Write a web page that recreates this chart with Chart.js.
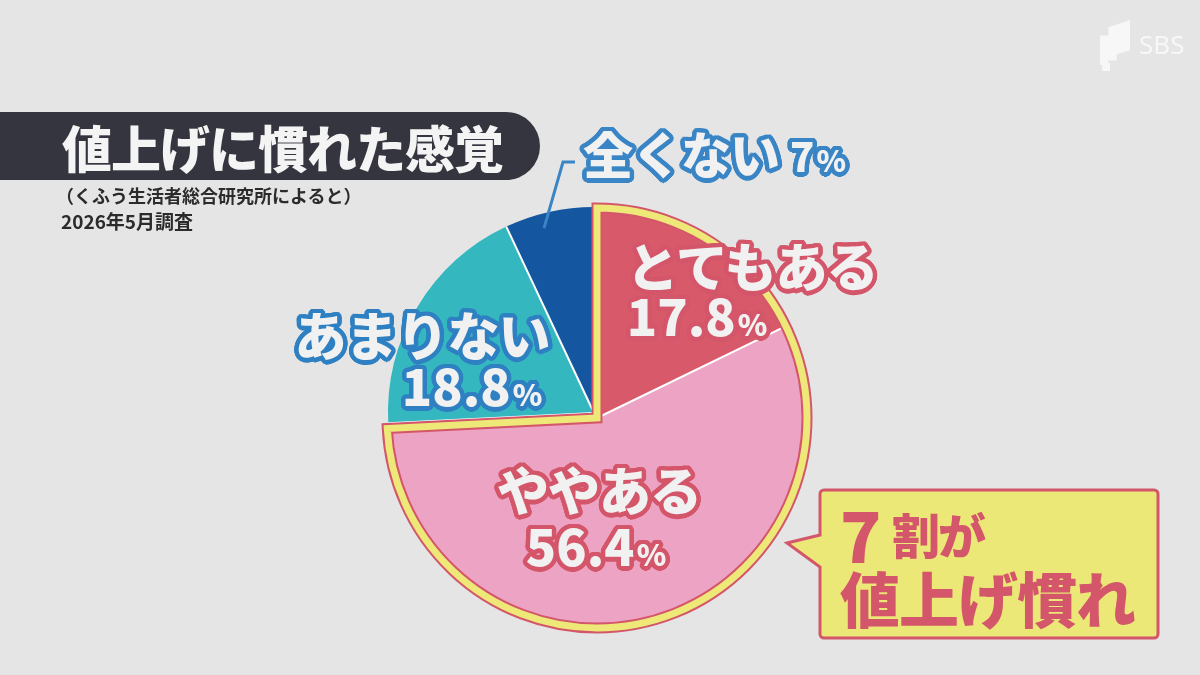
<!DOCTYPE html>
<html lang="ja">
<head>
<meta charset="utf-8">
<script src="https://cdn.jsdelivr.net/npm/chart.js@4.4.1/dist/chart.umd.min.js"></script>
<style>
html, body { margin: 0; padding: 0; }
body {
    width: 1200px; height: 675px; overflow: hidden; position: relative;
    background: #e5e5e5;
    font-family: "Noto Sans CJK JP", "Noto Sans", sans-serif;
}
#pie { position: absolute; left: 0; top: 0; }
.abs { position: absolute; white-space: nowrap; line-height: 1; }
.mid { transform: translate(-50%, -50%); }
#titleBar { left: 0; top: 112px; width: 540px; height: 68px; background: #34353e; border-radius: 0 34px 34px 0; }
#title { left: 62px; top: 121px; font-size: 50px; font-weight: 900; color: #f4f4f4; letter-spacing: -1px; }
#sub1 { left: 56px; top: 186px; font-size: 18px; font-weight: 700; color: #2b2b2b; }
#sub2 { left: 61px; top: 211px; font-size: 19px; font-weight: 700; color: #2b2b2b; }
.name { font-size: 52px; font-weight: 900; color: #f1f1f1; letter-spacing: -1px; }
.pct { font-size: 50px; font-weight: 900; color: #f1f1f1; }
.pct small { font-size: 30px; margin-left: 2px; }
.callout { color: #d4566a; font-weight: 900; }
#c7 { left: 840px; top: 500px; font-size: 68px; }
#cWari { left: 892px; top: 509px; font-size: 48px; letter-spacing: -2px; }
#cMain { left: 840px; top: 567px; font-size: 60px; letter-spacing: -1px; }
#sbs { left: 1139px; top: 31px; font-family: "Noto Sans", sans-serif; font-size: 26px; color: #f7f7f7; }
#logo { left: 1100px; top: 20px; width: 30px; height: 52px; background: #f7f7f7;
    clip-path: polygon(0 30%, 28% 30%, 28% 14%, 100% 0, 100% 58%, 56% 66%, 56% 78%, 28% 78%, 28% 86%, 0 86%); }
#logoDot { left: 1102px; top: 63px; width: 8px; height: 8px; background: #f7f7f7; }
</style>
</head>
<body>
<canvas id="pie" width="1200" height="675"></canvas>

<div class="abs" id="titleBar"></div>
<div class="abs" id="title">値上げに慣れた感覚</div>
<div class="abs" id="sub1">（くふう生活者総合研究所によると）</div>
<div class="abs" id="sub2">2026年5月調査</div>

<div class="abs callout" id="c7">7</div>
<div class="abs callout" id="cWari">割が</div>
<div class="abs callout" id="cMain">値上げ慣れ</div>

<div class="abs" id="logo"></div>
<div class="abs" id="logoDot"></div>
<div class="abs" id="sbs">SBS</div>

<script>
// ================= DATA =================
const categories = ['とてもある', 'ややある', 'あまりない', '全くない'];
const shares = [17.8, 56.4, 18.8, 7];
const highlighted = [0, 1];   // 「7割が値上げ慣れ」

// label placement (centres, px) and outline colour per slice
const labelSpots = [
    { name: [752, 265], pct: [697, 314], edge: '#d4566a' },
    { name: [599, 489], pct: [596, 544], edge: '#d4566a' },
    { name: [422, 334], pct: [472, 384], edge: '#2f80c2' },
    { name: [681, 152], pct: [818, 155], edge: '#3a85c5', small: true }
];

function outline(color, w){
    let s = [];
    for(let r of [w, w * 0.6]){
        for(let k = 0; k < 24; k++){
            let t = k / 24 * Math.PI * 2;
            s.push((r * Math.cos(t)).toFixed(1) + 'px ' + (r * Math.sin(t)).toFixed(1) + 'px 0 ' + color);
        }
    }
    return s.join(',');
}

function addLabel(text, pos, cls, color, size){
    let el = document.createElement('div');
    el.className = 'abs mid ' + cls;
    el.innerHTML = text;
    el.style.left = pos[0] + 'px';
    el.style.top = pos[1] + 'px';
    el.style.textShadow = outline(color, 4.5);
    if(size) el.style.fontSize = size + 'px';
    document.body.appendChild(el);
}

categories.forEach((c, i) => {
    let spot = labelSpots[i];
    addLabel(c, spot.name, 'name', spot.edge, spot.small ? 50 : null);
    addLabel(shares[i] + '<small>%</small>', spot.pct, 'pct', spot.edge, spot.small ? 40 : null);
});

// ================= PIE DECORATION =================
const pieDecor = {
    id: 'pieDecor',
    afterUpdate(chart){
        // the highlighted pair is lifted out together
        let arcs = chart.getDatasetMeta(0).data;
        highlighted.forEach(i => {
            arcs[i].x += 3;
            arcs[i].y += 5;
            arcs[i].outerRadius += 4;
        });
    },
    afterDatasetsDraw(chart){
        let ctx = chart.ctx;
        let arcs = chart.getDatasetMeta(0).data;
        ctx.save();

        // white dividers
        ctx.strokeStyle = '#ffffff';
        ctx.lineWidth = 2;
        arcs.forEach(a => {
            ctx.beginPath();
            ctx.moveTo(a.x, a.y);
            ctx.lineTo(a.x + a.outerRadius * Math.cos(a.startAngle), a.y + a.outerRadius * Math.sin(a.startAngle));
            ctx.stroke();
        });

        // yellow frame around the highlighted pair
        let a = arcs[highlighted[0]], b = arcs[highlighted[highlighted.length - 1]];
        ctx.beginPath();
        ctx.moveTo(a.x, a.y);
        ctx.arc(a.x, a.y, a.outerRadius, a.startAngle, b.endAngle);
        ctx.closePath();
        ctx.lineJoin = 'miter';
        ctx.strokeStyle = '#d4566a';
        ctx.lineWidth = 11;
        ctx.stroke();
        ctx.strokeStyle = '#ede877';
        ctx.lineWidth = 7;
        ctx.stroke();

        // leader line for 全くない
        let d = arcs[3];
        let ang = d.startAngle + 0.4 * (d.endAngle - d.startAngle);
        let r = d.outerRadius * 0.93;
        let sx = d.x + r * Math.cos(ang), sy = d.y + r * Math.sin(ang);
        ctx.beginPath();
        ctx.moveTo(sx, sy);
        ctx.lineTo(563, 162);
        ctx.lineTo(575, 162);
        ctx.strokeStyle = '#3a85c5';
        ctx.lineWidth = 3;
        ctx.stroke();

        // callout box
        ctx.beginPath();
        ctx.moveTo(820, 535);
        ctx.lineTo(820, 494);
        ctx.arcTo(820, 490, 824, 490, 4);
        ctx.lineTo(1154, 490);
        ctx.arcTo(1158, 490, 1158, 494, 4);
        ctx.lineTo(1158, 634);
        ctx.arcTo(1158, 638, 1154, 638, 4);
        ctx.lineTo(824, 638);
        ctx.arcTo(820, 638, 820, 634, 4);
        ctx.lineTo(820, 567);
        ctx.lineTo(787, 543);
        ctx.closePath();
        ctx.fillStyle = '#ece877';
        ctx.fill();
        ctx.strokeStyle = '#d4566a';
        ctx.lineWidth = 3;
        ctx.stroke();

        ctx.restore();
    }
};

new Chart(document.getElementById('pie'), {
    type: 'pie',
    data: {
        labels: categories,
        datasets: [{
            data: shares,
            backgroundColor: ['#d85a6a', '#eda4c4', '#35b7bf', '#1456a0'],
            borderWidth: 0
        }]
    },
    options: {
        responsive: false,
        animation: false,
        layout: { padding: { left: 388, top: 207, right: 400, bottom: 56 } },
        plugins: {
            legend: { display: false },
            tooltip: { enabled: false }
        }
    },
    plugins: [pieDecor]
});
</script>
</body>
</html>
